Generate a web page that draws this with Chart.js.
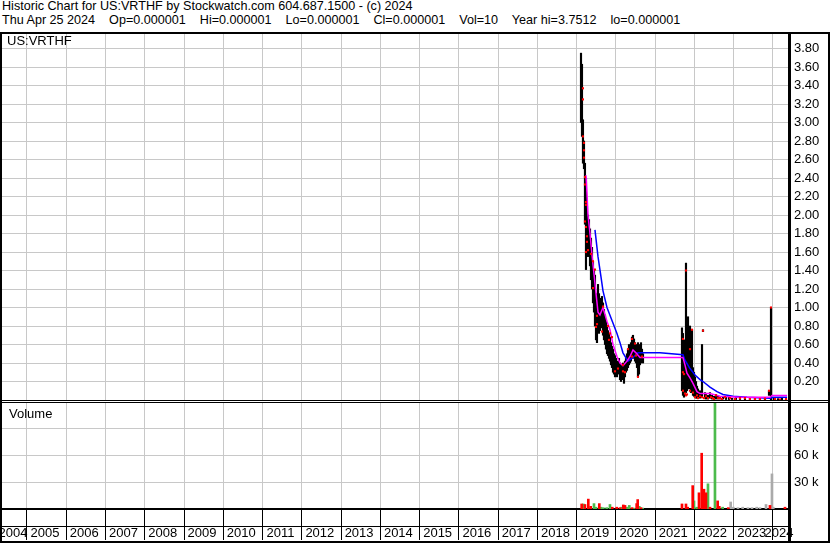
<!DOCTYPE html>
<html>
<head>
<meta charset="utf-8">
<script src="https://cdn.jsdelivr.net/npm/chart.js@4.4.1/dist/chart.umd.min.js"></script>
<style>
body { margin: 0; background: #fff; }
#hoja { position: relative; width: 830px; height: 543px; overflow: hidden; background: #fff;
        font-family: "Liberation Sans", Arial, sans-serif; color: #000; }
.txt { position: absolute; white-space: pre; }
.linea { position: absolute; background: #000; }
canvas { position: absolute; }
</style>
</head>
<body>
<div id="hoja">
  <div class="txt" style="left:2px;top:-1px;font-size:12.6px;line-height:14px">Historic Chart for US:VRTHF by Stockwatch.com 604.687.1500 - (c) 2024
Thu Apr 25 2024    Op=0.000001    Hi=0.000001    Lo=0.000001    Cl=0.000001    Vol=10    Year hi=3.7512    lo=0.000001</div>
  <canvas id="precio" width="826" height="366" style="left:2px;top:34px"></canvas>
  <canvas id="volumen" width="826" height="137" style="left:2px;top:403px"></canvas>
  <div class="txt" style="left:7px;top:33px;font-size:13px;line-height:15px">US:VRTHF</div>
  <div class="txt" style="left:9px;top:406px;font-size:13px;line-height:15px">Volume</div>
  <div class="linea" style="left:0;top:32px;width:830px;height:2px"></div>
  <div class="linea" style="left:0;top:32px;width:2px;height:511px"></div>
  <div class="linea" style="left:828px;top:32px;width:2px;height:511px"></div>
  <div class="linea" style="left:0;top:541px;width:830px;height:2px"></div>
  <div class="linea" style="left:0;top:400px;width:830px;height:1px"></div>
  <div class="linea" style="left:0;top:402px;width:830px;height:1px"></div>
  <div class="linea" style="left:2px;top:526px;width:787px;height:1px"></div>
  <div class="linea" style="left:788px;top:32px;width:3px;height:511px"></div>
</div>
<script>
// rango del eje x en años decimales
var X_MIN = 2004.3633;
var X_MAX = 2024.4076;

var lineasAnio = [2005, 2006, 2007, 2008, 2009, 2010, 2011, 2012, 2013, 2014,
    2015, 2016, 2017, 2018, 2019, 2020, 2021, 2022, 2023, 2024];
var ticksPrecio = [0.2, 0.4, 0.6, 0.8, 1.0, 1.2, 1.4, 1.6, 1.8, 2.0,
    2.2, 2.4, 2.6, 2.8, 3.0, 3.2, 3.4, 3.6, 3.8];
var ticksVolumen = [30000, 60000, 90000];

// barras maximo / minimo
var fechasBarra = [
    2019.110, 2019.135, 2019.160, 2019.186, 2019.211, 2019.237, 2019.262, 2019.288, 2019.313, 2019.339,
    2019.364, 2019.390, 2019.415, 2019.441, 2019.466, 2019.492, 2019.517, 2019.543, 2019.568, 2019.593,
    2019.619, 2019.644, 2019.670, 2019.695, 2019.721, 2019.746, 2019.772, 2019.797, 2019.823, 2019.848,
    2019.874, 2019.899, 2019.925, 2019.950, 2019.976, 2020.001, 2020.026, 2020.052, 2020.077, 2020.103,
    2020.128, 2020.154, 2020.179, 2020.205, 2020.230, 2020.256, 2020.281, 2020.307, 2020.332, 2020.358,
    2020.383, 2020.409, 2020.434, 2020.460, 2020.485, 2020.510, 2020.536, 2020.561, 2020.587, 2020.612,
    2020.638, 2020.663, 2020.689,
    2021.682, 2021.707, 2021.733, 2021.758, 2021.784, 2021.809, 2021.835, 2021.860, 2021.886, 2021.911,
    2021.937, 2021.962, 2021.988, 2022.013, 2022.039, 2022.064, 2022.090, 2022.141, 2022.192, 2022.217,
    2022.268, 2022.293, 2022.344, 2022.395, 2022.446, 2022.497, 2022.548, 2022.599, 2022.650, 2022.726,
    2022.803, 2022.879, 2022.955, 2023.057, 2023.159, 2023.286, 2023.413, 2023.541, 2023.668, 2023.796,
    2023.898, 2023.949, 2024.025, 2024.127, 2024.229, 2024.331
];
var maximos = [
    3.75, 3.63, 3.03, 2.80, 2.56, 2.40, 2.10, 2.00, 1.95, 1.85,
    1.75, 1.65, 1.50, 1.40, 1.35, 1.15, 1.05, 1.25, 1.15, 1.10,
    1.05, 1.12, 1.05, 0.98, 0.92, 0.85, 0.80, 0.75, 0.72, 0.68,
    0.62, 0.58, 0.55, 0.50, 0.48, 0.45, 0.40, 0.42, 0.45, 0.40,
    0.38, 0.35, 0.40, 0.38, 0.42, 0.45, 0.50, 0.55, 0.60, 0.58,
    0.62, 0.68, 0.70, 0.66, 0.62, 0.60, 0.58, 0.62, 0.60, 0.55,
    0.62, 0.55, 0.50,
    0.78, 0.72, 0.60, 0.65, 1.48, 0.55, 0.90, 0.60, 0.80, 0.45,
    0.76, 0.35, 0.30, 0.25, 0.20, 0.15, 0.12, 0.10, 0.60, 0.76,
    0.08, 0.06, 0.05, 0.08, 0.05, 0.04, 0.06, 0.04, 0.03, 0.04,
    0.03, 0.03, 0.02, 0.03, 0.02, 0.02, 0.02, 0.02, 0.015, 0.02,
    0.10, 1.00, 0.02, 0.015, 0.02, 0.01
];
var minimos = [
    3.00, 2.85, 2.56, 2.50, 1.90, 1.41, 1.60, 1.55, 1.60, 1.45,
    1.30, 1.20, 1.05, 0.95, 0.80, 0.65, 0.62, 0.80, 0.72, 0.75,
    0.78, 0.80, 0.70, 0.65, 0.60, 0.55, 0.50, 0.48, 0.45, 0.42,
    0.38, 0.35, 0.30, 0.28, 0.25, 0.26, 0.25, 0.28, 0.30, 0.22,
    0.20, 0.22, 0.25, 0.18, 0.25, 0.30, 0.32, 0.35, 0.38, 0.40,
    0.42, 0.45, 0.48, 0.45, 0.42, 0.40, 0.35, 0.25, 0.28, 0.38,
    0.40, 0.42, 0.40,
    0.10, 0.05, 0.03, 0.05, 0.08, 0.10, 0.15, 0.12, 0.20, 0.08,
    0.10, 0.05, 0.04, 0.03, 0.02, 0.02, 0.02, 0.02, 0.03, 0.74,
    0.02, 0.01, 0.01, 0.02, 0.01, 0.01, 0.01, 0.01, 0.01, 0.01,
    0.005, 0.005, 0.005, 0.005, 0.005, 0.003, 0.003, 0.003, 0.003, 0.003,
    0.05, 0.001, 0.001, 0.001, 0.001, 0.001
];

// cierres (puntos rojos)
var fechasCierre = [
    2019.160, 2019.160, 2019.160, 2019.186, 2019.186, 2019.186, 2019.211, 2019.211, 2019.237, 2019.237,
    2019.211, 2019.237, 2019.237, 2019.262, 2019.262, 2019.288, 2019.364, 2019.415, 2019.466, 2019.415,
    2019.517, 2019.517, 2019.492, 2019.644, 2019.670, 2019.797, 2019.848, 2019.899, 2019.823, 2019.976,
    2020.052, 2020.179, 2020.179, 2020.230, 2020.307, 2020.409, 2020.485, 2020.409, 2020.510, 2020.561,
    2020.663,
    2021.707, 2021.733, 2021.707, 2021.784, 2021.784, 2021.886, 2021.937, 2022.217, 2021.707, 2021.758,
    2021.809, 2021.886, 2021.962, 2022.064, 2022.141, 2022.192, 2022.293, 2022.344, 2022.421, 2022.472,
    2022.548, 2022.650, 2022.777, 2022.905, 2023.032, 2023.159, 2023.286, 2023.413, 2023.541, 2023.668,
    2023.796, 2023.898, 2023.949, 2024.051, 2024.178, 2024.331, 2022.013, 2022.090, 2022.242, 2022.497,
    2022.599, 2022.701
];
var cierres = [
    3.37, 3.25, 2.85, 2.78, 2.70, 2.62, 2.41, 2.33, 2.14, 2.11,
    1.93, 1.87, 1.60, 1.71, 1.77, 1.62, 1.58, 1.50, 1.41, 1.21,
    0.91, 0.82, 0.79, 0.74, 1.01, 0.80, 0.72, 0.68, 0.65, 0.31,
    0.34, 0.31, 0.38, 0.30, 0.55, 0.66, 0.61, 0.47, 0.48, 0.25,
    0.47,
    0.30, 0.28, 0.66, 1.40, 0.05, 0.55, 0.76, 0.75, 0.10, 0.07,
    0.06, 0.10, 0.08, 0.05, 0.04, 0.03, 0.04, 0.02, 0.03, 0.02,
    0.05, 0.02, 0.03, 0.02, 0.01, 0.02, 0.02, 0.01, 0.01, 0.01,
    0.015, 0.10, 1.00, 0.01, 0.005, 0.01, 0.03, 0.02, 0.02, 0.01,
    0.02, 0.01
];

// media movil corta (magenta) y larga (azul)
var fechasMediaCorta = [
    2019.237, 2019.262, 2019.288, 2019.339, 2019.390, 2019.466, 2019.543, 2019.593, 2019.670, 2019.772,
    2019.848, 2019.925, 2020.026, 2020.103, 2020.179, 2020.281, 2020.358, 2020.434, 2020.510, 2020.612,
    2020.689, 2021.707, 2021.758, 2021.809, 2021.886, 2021.962, 2022.064, 2022.141, 2022.395, 2022.650,
    2023.159, 2023.923, 2023.977, 2024.359
];
var mediaCorta = [
    2.43, 2.24, 2.00, 1.80, 1.57, 1.26, 0.95, 0.92, 1.00, 0.85,
    0.76, 0.60, 0.47, 0.40, 0.37, 0.42, 0.47, 0.54, 0.51, 0.46,
    0.46, 0.46, 0.38, 0.29, 0.24, 0.18, 0.09, 0.07, 0.07, 0.04,
    0.03, 0.03, 0.05, 0.05
];
var fechasMediaLarga = [
    2019.466, 2019.543, 2019.619, 2019.670, 2019.772, 2019.899, 2020.026, 2020.103, 2020.179, 2020.307,
    2020.434, 2020.561, 2021.122, 2021.707, 2021.758, 2021.886, 2022.013, 2022.141, 2022.217, 2022.395,
    2022.573, 2022.726, 2022.981, 2023.338, 2023.923, 2024.002, 2024.359
];
var mediaLarga = [
    1.84, 1.55, 1.33, 1.18, 1.00, 0.86, 0.72, 0.62, 0.51, 0.42,
    0.46, 0.51, 0.51, 0.49, 0.43, 0.34, 0.27, 0.22, 0.20, 0.14,
    0.09, 0.06, 0.04, 0.03, 0.02, 0.03, 0.03
];

// volumen
var fechasVolRojo = [
    2019.127, 2019.211, 2019.296, 2019.357, 2019.576, 2019.907, 2020.019, 2020.103, 2020.187, 2020.230,
    2020.409, 2020.528, 2020.554, 2020.638,
    2021.682, 2021.784, 2021.827, 2021.955, 2022.115, 2022.184, 2022.242, 2022.293, 2022.395, 2022.591,
    2022.632, 2022.861, 2023.923, 2024.305
];
var volRojo = [
    5600, 5000, 11000, 3000, 6000, 2000, 2000, 1500, 4500, 4000,
    1500, 6000, 10500, 1500,
    5600, 5600, 2000, 26000, 18000, 62000, 22000, 18000, 2000, 9000,
    3000, 1500, 4000, 2000
];
var fechasVolVerde = [
    2019.168, 2019.441, 2019.492, 2019.619, 2019.678, 2019.764, 2019.848, 2020.146, 2020.273, 2020.340,
    2020.459, 2020.594, 2020.681,
    2021.988, 2022.056, 2022.209, 2022.344, 2022.522, 2022.718
];
var volVerde = [
    5600, 6000, 2000, 2000, 1500, 1500, 5000, 2000, 2000, 4000,
    1000, 3000, 1000,
    9000, 2000, 14600, 28000, 150000, 2000
];
var fechasVolGris = [
    2022.922, 2022.989, 2023.108, 2023.228, 2023.363, 2023.465, 2023.585, 2023.668, 2023.822, 2023.974,
    2024.007
];
var volGris = [
    7800, 2000, 1500, 2000, 1500, 1500, 2000, 1500, 5000, 39000,
    2000
];

Chart.defaults.font.family = '"Liberation Sans", Arial, sans-serif';
Chart.defaults.font.size = 13;
Chart.defaults.color = '#000';

var GRIS = '#c8c8c8';

function puntos(xs, ys) {
    var r = [];
    for (var i = 0; i < xs.length; i++) {
        r.push({x: xs[i], y: ys[i]});
    }
    return r;
}

function barrasFlotantes() {
    var r = [];
    for (var i = 0; i < fechasBarra.length; i++) {
        r.push({x: fechasBarra[i], y: [minimos[i], maximos[i]]});
    }
    return r;
}

// ticks del eje de años: lineas en cada año y etiquetas centradas en cada casilla
function ticksAnios() {
    var t = [{value: 2004.185, label: '2004', oculta: true}];
    for (var i = 0; i < lineasAnio.length; i++) {
        if (lineasAnio[i] === 2024) {
            t.push({value: 2023.694, label: '2024', oculta: true});
            t.push({value: 2024, label: '', oculta: false});
        } else {
            t.push({value: lineasAnio[i], label: String(lineasAnio[i]), oculta: false});
        }
    }
    return t;
}
var ejeAnios = ticksAnios();

var sinPadding = function (s) {
    s.paddingLeft = 0;
    s.paddingRight = 0;
    s.paddingTop = 0;
    s.paddingBottom = 0;
};

new Chart(document.getElementById('precio'), {
    type: 'line',
    data: {
        datasets: [
            {
                type: 'line', data: puntos(fechasCierre, cierres), showLine: false,
                pointStyle: 'rect', pointRadius: 1.5, pointBorderWidth: 0,
                pointBackgroundColor: '#ff0000', pointHoverRadius: 0
            },
            {
                type: 'line', data: puntos(fechasMediaCorta, mediaCorta), borderColor: '#ff00ff',
                borderWidth: 1.5, pointRadius: 0, tension: 0, fill: false
            },
            {
                type: 'line', data: puntos(fechasMediaLarga, mediaLarga), borderColor: '#0000ff',
                borderWidth: 1.5, pointRadius: 0, tension: 0, fill: false
            },
            {
                type: 'bar', data: barrasFlotantes(), backgroundColor: '#000000',
                barThickness: 1.5, grouped: false, borderWidth: 0
            }
        ]
    },
    options: {
        responsive: false,
        animation: false,
        layout: {padding: 0, autoPadding: false},
        plugins: {legend: {display: false}, tooltip: {enabled: false}},
        scales: {
            x: {
                type: 'linear', min: X_MIN, max: X_MAX, offset: false,
                afterBuildTicks: function (s) {
                    s.ticks = lineasAnio.map(function (v) { return {value: v}; });
                },
                afterFit: function (s) { s.height = 0; sinPadding(s); },
                ticks: {display: false},
                border: {display: false},
                grid: {color: GRIS, lineWidth: 1, drawTicks: false, offset: false}
            },
            y: {
                type: 'linear', position: 'right', min: 0, max: 3.957,
                afterBuildTicks: function (s) {
                    s.ticks = ticksPrecio.map(function (v) { return {value: v}; });
                },
                afterFit: function (s) { s.width = 39; sinPadding(s); },
                ticks: {
                    padding: 5,
                    callback: function (v) { return v.toFixed(2); }
                },
                grid: {color: GRIS, lineWidth: 1, drawTicks: false},
                border: {color: '#000', width: 3}
            }
        }
    }
});

new Chart(document.getElementById('volumen'), {
    type: 'bar',
    data: {
        datasets: [
            {data: puntos(fechasVolRojo, volRojo), backgroundColor: '#ff0000', barThickness: 2, grouped: false},
            {data: puntos(fechasVolVerde, volVerde), backgroundColor: '#4cbb4c', barThickness: 2, grouped: false},
            {data: puntos(fechasVolGris, volGris), backgroundColor: '#aaaaaa', barThickness: 2, grouped: false}
        ]
    },
    options: {
        responsive: false,
        animation: false,
        layout: {padding: 0, autoPadding: false},
        plugins: {legend: {display: false}, tooltip: {enabled: false}},
        scales: {
            x: {
                type: 'linear', position: 'bottom', min: X_MIN, max: X_MAX, offset: false,
                afterBuildTicks: function (s) {
                    s.ticks = ejeAnios.map(function (o) { return {value: o.value}; });
                },
                afterFit: function (s) { s.height = 31; sinPadding(s); },
                ticks: {
                    autoSkip: false, maxRotation: 0, minRotation: 0,
                    labelOffset: 18, padding: -14,
                    callback: function (v, i) { return ejeAnios[i].label; }
                },
                grid: {
                    offset: false, drawTicks: true, tickLength: 31, tickWidth: 1, lineWidth: 1,
                    color: function (c) { return ejeAnios[c.index] && ejeAnios[c.index].oculta ? 'rgba(0,0,0,0)' : GRIS; },
                    tickColor: function (c) { return ejeAnios[c.index] && ejeAnios[c.index].oculta ? 'rgba(0,0,0,0)' : '#000'; }
                },
                border: {color: '#000', width: 2}
            },
            y: {
                type: 'linear', position: 'right', min: 0, max: 117800,
                afterBuildTicks: function (s) {
                    s.ticks = ticksVolumen.map(function (v) { return {value: v}; });
                },
                afterFit: function (s) { s.width = 39; sinPadding(s); },
                ticks: {
                    padding: 5,
                    callback: function (v) { return (v / 1000) + ' k'; }
                },
                grid: {color: GRIS, lineWidth: 1, drawTicks: false},
                border: {color: '#000', width: 3}
            }
        }
    }
});
</script>
</body>
</html>
